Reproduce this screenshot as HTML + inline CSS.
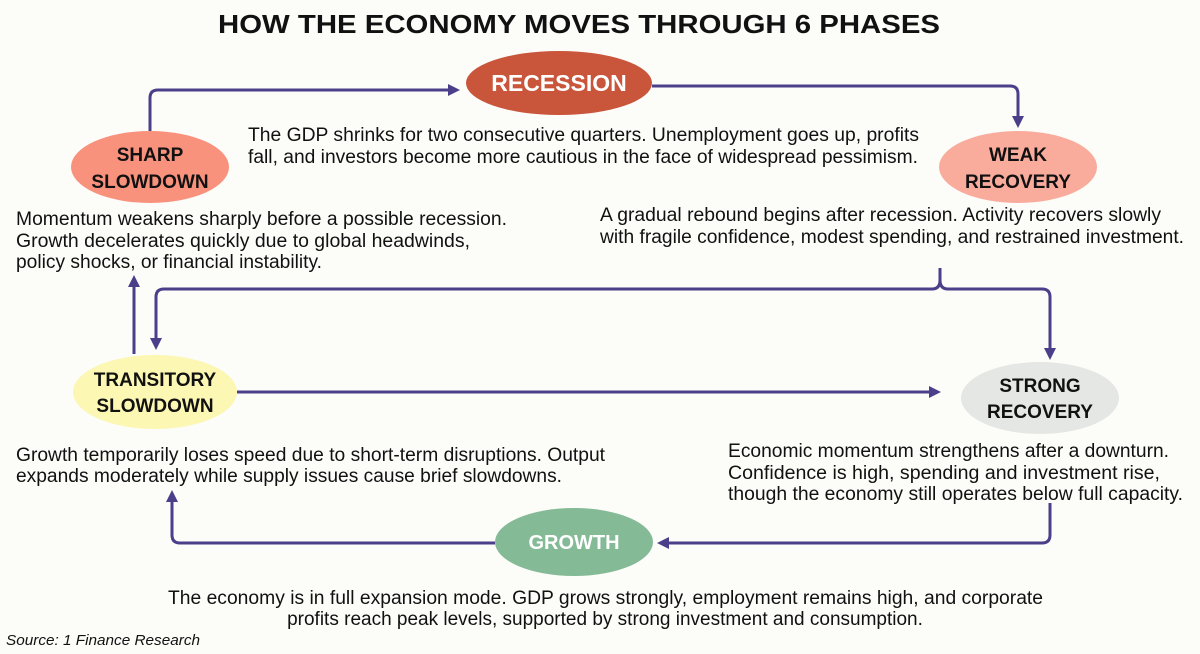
<!DOCTYPE html>
<html><head><meta charset="utf-8"><style>
html,body{margin:0;padding:0;background:#fcfcf9;}
svg{display:block;font-family:"Liberation Sans",sans-serif;}
.d{font-size:19px;fill:#111;}
.l{font-weight:bold;font-size:19px;fill:#111;text-anchor:middle;}
.a{fill:none;stroke:#4b3f8a;stroke-width:3;stroke-linejoin:round;}
</style></head><body>
<svg width="1200" height="654" viewBox="0 0 1200 654">
<defs><marker id="m" markerWidth="14" markerHeight="14" refX="8" refY="6" orient="auto" markerUnits="userSpaceOnUse"><path d="M0,0 L12,6 L0,12 z" fill="#4b3f8a"/></marker></defs>
<rect width="1200" height="654" fill="#fcfcf9"/>
<text x="218" y="33" textLength="722" lengthAdjust="spacingAndGlyphs" font-weight="bold" font-size="26" fill="#111">HOW THE ECONOMY MOVES THROUGH 6 PHASES</text>

<path class="a" d="M150,131 V98 Q150,90 158,90 H456" marker-end="url(#m)"/>
<path class="a" d="M652,86 H1010 Q1018,86 1018,94 V124" marker-end="url(#m)"/>
<path class="a" d="M940,268 V280 Q940,289 932,289 H164 Q156,289 156,297 V346" marker-end="url(#m)"/>
<path class="a" d="M940,280 Q940,289 948,289 H1042 Q1050,289 1050,297 V356" marker-end="url(#m)"/>
<path class="a" d="M237,392 H937" marker-end="url(#m)"/>
<path class="a" d="M134,354 V279" marker-end="url(#m)"/>
<path class="a" d="M1050,503 V535 Q1050,543 1042,543 H661" marker-end="url(#m)"/>
<path class="a" d="M495,543 H180 Q172,543 172,535 V494" marker-end="url(#m)"/>

<ellipse cx="559" cy="83" rx="93" ry="32" fill="#c9553b"/>
<text x="559" y="91" text-anchor="middle" font-weight="bold" font-size="23" fill="#fff">RECESSION</text>
<ellipse cx="150" cy="167" rx="79" ry="36" fill="#f8927d"/>
<text class="l" x="150" y="161">SHARP</text><text class="l" x="150" y="188">SLOWDOWN</text>
<ellipse cx="1018" cy="167" rx="79" ry="36" fill="#f9ab9c"/>
<text class="l" x="1018" y="161">WEAK</text><text class="l" x="1018" y="188">RECOVERY</text>
<ellipse cx="155" cy="392" rx="82" ry="37" fill="#fcf7b2"/>
<text class="l" x="155" y="386">TRANSITORY</text><text class="l" x="155" y="412">SLOWDOWN</text>
<ellipse cx="1040" cy="398" rx="79" ry="36" fill="#e5e7e4"/>
<text class="l" x="1040" y="392">STRONG</text><text class="l" x="1040" y="418">RECOVERY</text>
<ellipse cx="574" cy="542" rx="79" ry="34" fill="#84ba96"/>
<text x="574" y="549" text-anchor="middle" font-weight="bold" font-size="20" fill="#fff">GROWTH</text>

<text class="d" x="248" y="141" textLength="671" lengthAdjust="spacingAndGlyphs">The GDP shrinks for two consecutive quarters. Unemployment goes up, profits</text>
<text class="d" x="248" y="163" textLength="670" lengthAdjust="spacingAndGlyphs">fall, and investors become more cautious in the face of widespread pessimism.</text>
<text class="d" x="16" y="225" textLength="491" lengthAdjust="spacingAndGlyphs">Momentum weakens sharply before a possible recession.</text>
<text class="d" x="16" y="247" textLength="454" lengthAdjust="spacingAndGlyphs">Growth decelerates quickly due to global headwinds,</text>
<text class="d" x="16" y="268" textLength="306" lengthAdjust="spacingAndGlyphs">policy shocks, or financial instability.</text>
<text class="d" x="600" y="221" textLength="561" lengthAdjust="spacingAndGlyphs">A gradual rebound begins after recession. Activity recovers slowly</text>
<text class="d" x="600" y="243" textLength="584" lengthAdjust="spacingAndGlyphs">with fragile confidence, modest spending, and restrained investment.</text>
<text class="d" x="16" y="461" textLength="589" lengthAdjust="spacingAndGlyphs">Growth temporarily loses speed due to short-term disruptions. Output</text>
<text class="d" x="16" y="482" textLength="546" lengthAdjust="spacingAndGlyphs">expands moderately while supply issues cause brief slowdowns.</text>
<text class="d" x="728" y="457" textLength="441" lengthAdjust="spacingAndGlyphs">Economic momentum strengthens after a downturn.</text>
<text class="d" x="728" y="479" textLength="432" lengthAdjust="spacingAndGlyphs">Confidence is high, spending and investment rise,</text>
<text class="d" x="728" y="500" textLength="455" lengthAdjust="spacingAndGlyphs">though the economy still operates below full capacity.</text>
<text class="d" x="168" y="604" textLength="875" lengthAdjust="spacingAndGlyphs">The economy is in full expansion mode. GDP grows strongly, employment remains high, and corporate</text>
<text class="d" x="605" y="625" text-anchor="middle">profits reach peak levels, supported by strong investment and consumption.</text>
<text x="6" y="645" font-size="15" font-style="italic" fill="#111" textLength="194" lengthAdjust="spacingAndGlyphs">Source: 1 Finance Research</text>
</svg>
</body></html>
